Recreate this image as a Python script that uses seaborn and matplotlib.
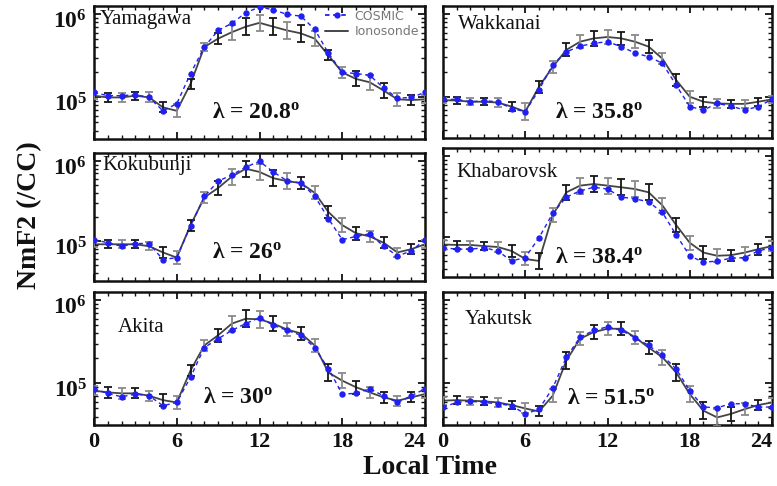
import numpy as np
import pandas as pd
import matplotlib
matplotlib.use("Agg")
import matplotlib.pyplot as plt
import matplotlib.transforms as mtransforms
from matplotlib.lines import Line2D
from matplotlib.ticker import FixedLocator, LogLocator, NullFormatter
import seaborn as sns

# ---------------------------------------------------------------- data
hours = list(range(25))
stations = ["Yamagawa", "Wakkanai", "Kokubunji", "Khabarovsk", "Akita", "Yakutsk"]
latitudes = ["20.8", "35.8", "26", "38.4", "30", "51.5"]
xtick_vals = [0, 6, 12, 18, 24]
xtick_labels = ["0", "6", "12", "18", "24"]
ytick_vals = [1e5, 1e6]
ytick_labels = [r"$\mathbf{10^5}$", r"$\mathbf{10^6}$"]

cosmic_yamagawa = [1.15e5, 1.05e5, 1.05e5, 1.08e5, 1.0e5, 6.9e4, 8.4e4, 1.94e5, 4.05e5, 6.4e5,
                   7.8e5, 1.04e6, 1.23e6, 1.13e6, 1.0e6, 9.5e5, 6.6e5, 3.4e5, 2.0e5, 1.94e5,
                   1.84e5, 1.3e5, 9.8e4, 1.0e5, 1.15e5]
iono_yamagawa = [1.05e5, 1.0e5, 1.0e5, 1.05e5, 1.0e5, 7.6e4, 6.9e4, 1.46e5, 4.05e5, 5.1e5,
                 6.1e5, 7.1e5, 7.9e5, 7.1e5, 6.4e5, 5.9e5, 5.1e5, 3.2e5, 2.0e5, 1.67e5,
                 1.52e5, 1.21e5, 9.5e4, 9.3e4, 9.5e4]
err_yamagawa = [0.04, 0.05, 0.05, 0.05, 0.06, 0.06, 0.08, 0.06, 0.05, 0.07, 0.09, 0.1, 0.1,
                0.1, 0.1, 0.1, 0.09, 0.06, 0.07, 0.09, 0.09, 0.09, 0.08, 0.06, 0.05]

cosmic_wakkanai = [9.3e4, 9.3e4, 8.7e4, 8.95e4, 8.7e4, 7.2e4, 6.6e4, 1.21e5, 2.43e5, 3.5e5,
                   4.1e5, 4.45e5, 4.65e5, 4.05e5, 3.4e5, 3.05e5, 2.55e5, 1.39e5, 7.6e4, 6.9e4,
                   8.3e4, 7.7e4, 6.9e4, 7.6e4, 9.3e4]
iono_wakkanai = [9.1e4, 9.0e4, 8.7e4, 8.7e4, 8.5e4, 7.6e4, 6.6e4, 1.32e5, 2.3e5, 3.7e5,
                 4.65e5, 5.1e5, 5.3e5, 5.1e5, 4.65e5, 4.05e5, 2.9e5, 1.6e5, 1.0e5, 8.7e4,
                 8.3e4, 8.2e4, 8.2e4, 8.7e4, 9.3e4]
err_wakkanai = [0.03, 0.04, 0.04, 0.04, 0.05, 0.05, 0.1, 0.07, 0.07, 0.08, 0.08, 0.09, 0.09,
                0.08, 0.08, 0.08, 0.07, 0.07, 0.07, 0.06, 0.05, 0.05, 0.05, 0.05, 0.04]

cosmic_kokubunji = [1.04e5, 9.5e4, 8.6e4, 9.3e4, 9.3e4, 5.85e4, 6.2e4, 1.54e5, 3.6e5, 5.6e5,
                    6.7e5, 8.4e5, 9.9e5, 7.3e5, 5.65e5, 5.3e5, 3.65e5, 1.9e5, 1.04e5, 1.14e5,
                    1.23e5, 8.6e4, 6.5e4, 7.5e4, 1.04e5]
iono_kokubunji = [9.1e4, 9.1e4, 9.1e4, 9.1e4, 8.6e4, 7.2e4, 6.2e4, 1.58e5, 3.5e5, 4.6e5,
                  6.4e5, 8.0e5, 7.3e5, 6.1e5, 5.6e5, 5.3e5, 4.0e5, 2.3e5, 1.58e5, 1.25e5,
                  1.14e5, 9.5e4, 7.2e4, 7.9e4, 9.1e4]
err_kokubunji = [0.04, 0.05, 0.05, 0.05, 0.05, 0.07, 0.08, 0.07, 0.07, 0.09, 0.1, 0.1, 0.1,
                 0.1, 0.1, 0.08, 0.08, 0.08, 0.09, 0.08, 0.07, 0.07, 0.06, 0.06, 0.05]

cosmic_khabarovsk = [7.3e4, 7.0e4, 7.0e4, 7.3e4, 6.65e4, 5.0e4, 5.5e4, 9.7e4, 1.94e5, 3.1e5,
                     3.7e5, 4.1e5, 3.9e5, 3.1e5, 2.95e5, 2.7e5, 2.0e5, 1.06e5, 5.8e4, 4.8e4,
                     5.0e4, 5.4e4, 5.5e4, 6.65e4, 7.3e4]
iono_khabarovsk = [8.0e4, 7.9e4, 7.9e4, 7.65e4, 7.45e4, 6.65e4, 5.3e4, 5.0e4, 1.85e5, 3.55e5,
                   4.3e5, 4.5e5, 4.3e5, 4.1e5, 3.9e5, 3.55e5, 2.45e5, 1.4e5, 8.4e4, 6.35e4,
                   5.8e4, 5.9e4, 6.35e4, 7.0e4, 7.65e4]
err_khabarovsk = [0.05, 0.05, 0.05, 0.05, 0.06, 0.07, 0.08, 0.1, 0.09, 0.09, 0.1, 0.1, 0.1,
                  0.1, 0.1, 0.1, 0.09, 0.09, 0.09, 0.08, 0.08, 0.07, 0.07, 0.07, 0.06]

cosmic_akita = [8.6e4, 7.6e4, 6.9e4, 7.45e4, 7.1e4, 5.4e4, 5.9e4, 1.19e5, 2.7e5, 3.45e5,
                4.35e5, 5.25e5, 6.2e5, 5.0e5, 4.35e5, 3.8e5, 2.7e5, 1.5e5, 7.45e4, 7.6e4,
                8.6e4, 7.1e4, 5.9e4, 7.1e4, 8.6e4]
iono_akita = [8.2e4, 7.8e4, 7.6e4, 7.6e4, 7.1e4, 6.3e4, 5.9e4, 1.43e5, 2.87e5, 3.8e5,
              5.25e5, 6.0e5, 5.9e5, 5.25e5, 4.45e5, 4.0e5, 2.87e5, 1.35e5, 1.08e5, 9.0e4,
              7.8e4, 6.8e4, 6.2e4, 6.8e4, 7.45e4]
err_akita = [0.05, 0.07, 0.07, 0.06, 0.06, 0.07, 0.08, 0.07, 0.07, 0.08, 0.09, 0.1, 0.1,
             0.09, 0.08, 0.08, 0.08, 0.1, 0.09, 0.08, 0.07, 0.07, 0.06, 0.06, 0.05]

cosmic_yakutsk = [5.2e4, 5.9e4, 6.1e4, 5.9e4, 5.7e4, 5.4e4, 4.3e4, 4.9e4, 8.8e4, 2.07e5,
                  3.6e5, 4.35e5, 4.8e5, 4.35e5, 3.55e5, 2.87e5, 2.17e5, 1.5e5, 8.2e4, 5.2e4,
                  5.1e4, 5.7e4, 5.7e4, 5.2e4, 5.2e4]
iono_yakutsk = [6.2e4, 6.3e4, 6.2e4, 6.1e4, 5.9e4, 5.5e4, 5.0e4, 4.6e4, 7.1e4, 1.89e5,
                3.45e5, 4.15e5, 4.55e5, 4.55e5, 3.6e5, 2.7e5, 2.07e5, 1.36e5, 7.45e4, 4.7e4,
                3.9e4, 4.3e4, 4.9e4, 5.5e4, 5.9e4]
err_yakutsk = [0.05, 0.05, 0.05, 0.05, 0.05, 0.05, 0.06, 0.06, 0.08, 0.1, 0.08, 0.08, 0.08,
               0.08, 0.08, 0.08, 0.09, 0.1, 0.1, 0.1, 0.1, 0.08, 0.07, 0.06, 0.05]

cosmic_all = [cosmic_yamagawa, cosmic_wakkanai, cosmic_kokubunji,
              cosmic_khabarovsk, cosmic_akita, cosmic_yakutsk]
iono_all = [iono_yamagawa, iono_wakkanai, iono_kokubunji,
            iono_khabarovsk, iono_akita, iono_yakutsk]
err_all = [err_yamagawa, err_wakkanai, err_kokubunji,
           err_khabarovsk, err_akita, err_yakutsk]

# ---------------------------------------------------------------- style
sns.set_theme(style="ticks")
plt.rcParams["font.family"] = ["Liberation Serif", "DejaVu Serif"]
plt.rcParams["mathtext.fontset"] = "custom"
plt.rcParams["mathtext.rm"] = "Liberation Serif"
plt.rcParams["mathtext.bf"] = "Liberation Serif:bold"
plt.rcParams["mathtext.it"] = "Liberation Serif:italic"

BLUE = "#2020f2"
LINE = "#444444"
BAR_DARK = "#161616"
BAR_LIGHT = "#8a8a8a"

W, H = 777, 486
fig = plt.figure(figsize=(W / 100, H / 100), dpi=100)


def px_rect(x0, x1, y0, y1):
    return [x0 / W, 1 - y1 / H, (x1 - x0) / W, (y1 - y0) / H]


panel_px = [(94, 425, 6, 139), (443, 772, 6, 138),
            (94, 425, 153, 281), (443, 772, 148, 277),
            (94, 425, 292, 425), (443, 772, 292, 425)]
name_pos = [(0.018, 0.895), (0.046, 0.857), (0.024, 0.9),
            (0.04, 0.81), (0.073, 0.73), (0.067, 0.79)]
lam_pos = [(0.356, 0.2), (0.34, 0.195), (0.356, 0.22),
           (0.34, 0.155), (0.33, 0.21), (0.377, 0.2)]

# nudge the decade labels slightly below their ticks
ylab_shift = mtransforms.ScaledTranslation(0, -5 / 100, fig.dpi_scale_trans)

for i, name in enumerate(stations):
    ax = fig.add_axes(px_rect(*panel_px[i]))
    df = pd.DataFrame({"hour": hours, "COSMIC": cosmic_all[i], "Ionosonde": iono_all[i]})
    iono = np.asarray(iono_all[i])
    err = np.asarray(err_all[i])
    h = np.asarray(hours)
    lo = iono * (1 - 10 ** (-err))
    hi = iono * (10 ** err - 1)

    sns.lineplot(data=df, x="hour", y="Ionosonde", ax=ax, color=LINE, lw=1.3, zorder=2)
    for colour, sl in ((BAR_LIGHT, slice(0, None, 2)), (BAR_DARK, slice(1, None, 2))):
        ax.errorbar(h[sl], iono[sl], yerr=[lo[sl], hi[sl]], fmt="none", ecolor=colour,
                    elinewidth=1.3, capsize=2.8, capthick=1.3, zorder=3)
    sns.lineplot(data=df, x="hour", y="COSMIC", ax=ax, color=BLUE, lw=1.0,
                 linestyle=(0, (3, 2.5)), marker="o", markersize=4.6,
                 markeredgewidth=0, zorder=4)

    ax.set_yscale("log")
    ax.set_ylim(10 ** 4.5, 10 ** 6.1)
    ax.set_xlim(0, 24)
    ax.set_xlabel("")
    ax.set_ylabel("")

    ax.xaxis.set_major_locator(FixedLocator(xtick_vals))
    ax.xaxis.set_minor_locator(FixedLocator(hours))
    ax.yaxis.set_major_locator(FixedLocator(ytick_vals))
    ax.yaxis.set_minor_locator(LogLocator(base=10, subs=np.arange(2, 10)))
    ax.yaxis.set_minor_formatter(NullFormatter())

    ax.tick_params(which="both", direction="in", top=True, right=True, colors="#111111")
    ax.tick_params(which="major", length=5, width=1.3, pad=5)
    ax.tick_params(which="minor", length=3, width=1.0)
    for sp in ax.spines.values():
        sp.set_linewidth(1.8)
        sp.set_color("#111111")

    if i >= 4:
        ax.set_xticklabels(xtick_labels, fontsize=16, fontweight="bold")
        ax.get_xticklabels()[-1].set_horizontalalignment("right")
        ax.get_xticklabels()[-2].set_x(17.8)
    else:
        ax.set_xticklabels([])
    if i % 2 == 0:
        ax.set_yticklabels(ytick_labels, fontsize=17)
        for lab in ax.get_yticklabels():
            lab.set_transform(lab.get_transform() + ylab_shift)
    else:
        ax.set_yticklabels([])

    ax.text(*name_pos[i], name, transform=ax.transAxes, fontsize=15,
            va="center", ha="left", color="#111111")
    ax.text(*lam_pos[i], "λ = " + latitudes[i] + r"$^{\mathbf{o}}$", transform=ax.transAxes,
            fontsize=17, fontweight="bold", va="center", ha="left", color="#111111")

    if i == 0:
        handles = [Line2D([], [], color=BLUE, lw=1.3, linestyle=(0, (2.5, 2)), marker="o",
                          markersize=4.5, markeredgewidth=0),
                   Line2D([], [], color=LINE, lw=1.4)]
        ax.legend(handles, ["COSMIC", "Ionosonde"], loc="upper right",
                  bbox_to_anchor=(1.005, 1.03), frameon=False, handlelength=1.9,
                  handletextpad=0.5, labelspacing=0.2, borderaxespad=0.2,
                  prop={"family": "DejaVu Sans", "size": 9}, labelcolor="#777777")

fig.text(30 / W, 1 - 215 / H, "NmF2 (/CC)", rotation=90, fontsize=20,
         fontweight="bold", ha="center", va="center", color="#111111")
fig.text(430 / W, 1 - 467 / H, "Local Time", fontsize=20,
         fontweight="bold", ha="center", va="center", color="#111111")

fig.savefig("out.png", dpi=100)
